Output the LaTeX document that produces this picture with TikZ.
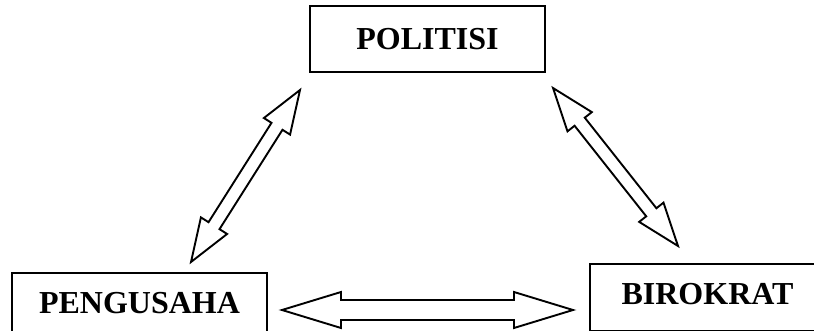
\documentclass[tikz,border=0pt]{standalone}
\usepackage{fontspec}
\setmainfont{Liberation Serif}
\usetikzlibrary{calc}
\tikzset{
  lbox/.style={draw=black, line width=2.2pt, inner sep=0pt, fill=none,
    font=\fontsize{32}{32}\selectfont\bfseries, text height=21pt},
  blockarrow/.style={draw=black, line width=1.9pt, fill=white, line join=miter},
}
% #1 tip a, #2 tip b, #3 head length, #4 half head width, #5 half shaft width
\newcommand\blockarr[5]{%
  \path ($(#1)!#3!(#2)$) coordinate (ba) ($(#2)!#3!(#1)$) coordinate (bb);
  \draw[blockarrow] (#1) -- ($(ba)!#4!90:(#1)$) -- ($(ba)!#5!90:(#1)$)
    -- ($(bb)!#5!-90:(#2)$) -- ($(bb)!#4!-90:(#2)$) -- (#2)
    -- ($(bb)!#4!90:(#2)$) -- ($(bb)!#5!90:(#2)$)
    -- ($(ba)!#5!-90:(#1)$) -- ($(ba)!#4!-90:(#1)$) -- cycle;
}
\begin{document}
\begin{tikzpicture}[x=1pt,y=-1pt]
  \useasboundingbox (0,0) rectangle (814,331);
  \clip (0,0) rectangle (814,331);
  \fill[white] (0,0) rectangle (814,331);
  % boxes
  \node[lbox, text depth=0pt, minimum width=235pt, minimum height=66pt] (politisi) at (427.5,39) {POLITISI};
  \node[lbox, text depth=4pt, minimum width=255pt, minimum height=63pt] (pengusaha) at (139.5,304.5) {PENGUSAHA};
  \node[lbox, text depth=7pt, minimum width=235pt, minimum height=67pt] (birokrat) at (707.5,297.5) {BIROKRAT};
  % arrow end points
  \coordinate (pT) at (300,90);
  \coordinate (pL) at (191,262);
  \coordinate (bT) at (553,88);
  \coordinate (bR) at (678,246);
  \coordinate (hL) at (282,310);
  \coordinate (hR) at (573,310);
  % arrows
  \blockarr{pT}{pL}{43pt}{15.5pt}{6.5pt}
  \blockarr{bT}{bR}{43pt}{15.5pt}{6.5pt}
  \blockarr{hL}{hR}{59pt}{18pt}{10pt}
\end{tikzpicture}
\end{document}
